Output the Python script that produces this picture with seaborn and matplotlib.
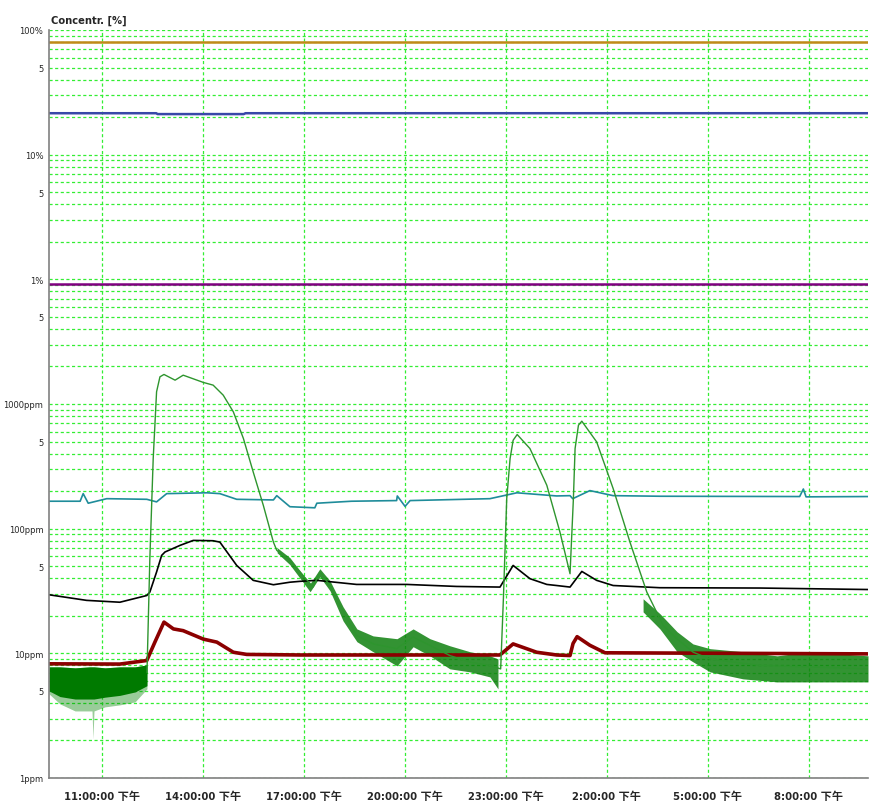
import numpy as np
import pandas as pd
import matplotlib
matplotlib.use("Agg")
import matplotlib.pyplot as plt
from matplotlib import font_manager as fm
from matplotlib.ticker import FixedLocator, NullFormatter
import seaborn as sns

# ---------------- data (time in hours since midnight of day 1, concentration in ppm) ----------------
n2_t = [9.435, 33.76]
n2_v = [800000, 800000]

o2_t = [9.435, 12.62, 12.66, 15.22, 15.27, 33.76]
o2_v = [215000, 215000, 211600, 211600, 215000, 215000]

ar_t = [9.435, 33.76]
ar_v = [9170, 9170]

teal_t = [9.435, 10.36, 10.45, 10.60, 11.15, 12.34, 12.63, 12.93, 14.12, 14.51, 15.01, 16.10, 16.20,
          16.59, 17.33, 17.39, 18.42, 19.76, 19.78, 20.01, 20.16, 22.53, 23.33, 24.51, 24.91, 24.99,
          25.50, 26.19, 27.58, 31.73, 31.84, 31.92, 33.76]
teal_v = [166, 166, 191, 160, 174, 172, 164, 191, 194, 191, 172, 170, 184,
          150, 147, 160, 166, 168, 183, 151, 168, 174, 194, 183, 184, 174,
          202, 184, 182, 181, 208, 180, 181]

co_t = [9.435, 10.55, 11.54, 12.34, 12.43, 12.63, 12.78, 12.88, 13.33, 13.72, 14.31, 14.51, 15.01, 15.50,
        16.10, 16.59, 16.89, 17.39, 18.57, 20.06, 21.54, 22.83, 23.22, 23.72, 24.22, 24.51, 24.91,
        25.26, 25.70, 26.19, 27.58, 30.55, 33.76]
co_v = [29.5, 26.6, 25.7, 29.1, 31, 44.9, 61, 65, 73.5, 80.5, 80, 78, 50.7, 38.5,
        35.5, 37.2, 37.8, 38.5, 35.7, 35.7, 34.4, 34, 50.7, 39.7, 35.7, 35, 34,
        45.4, 38.5, 35, 33.6, 33.4, 32.5]

red_t = [9.435, 11.54, 12.34, 12.58, 12.85, 13.13, 13.42, 14.02, 14.42, 14.91, 15.31, 16.89, 22.83,
         23.22, 23.92, 24.51, 24.91, 25.00, 25.12, 25.50, 25.95, 33.76]
red_v = [8.24, 8.2, 8.76, 12.3, 17.8, 15.7, 15.2, 13.0, 12.3, 10.2, 9.8, 9.7, 9.7,
         11.9, 10.2, 9.7, 9.6, 12.0, 13.6, 11.6, 10.1, 9.9]

green_t = [12.345, 12.43, 12.53, 12.63, 12.73, 12.85, 13.18, 13.42, 14.02, 14.31, 14.61, 14.91, 15.21,
           15.50, 15.80, 16.10, 16.20, 16.59, 16.89, 17.28, 17.48, 17.78, 18.18, 18.57, 19.07, 19.76,
           20.25, 20.75, 21.34, 21.94, 22.53, 22.85, 22.93, 23.03, 23.13, 23.22, 23.34, 23.72, 24.22,
           24.61, 24.91, 25.01, 25.06, 25.16, 25.26, 25.70, 26.19, 26.69, 27.19, 27.58, 27.68, 28.08,
           28.57, 29.07, 30.55, 32.53, 33.76]
green_v = [7.0, 57, 365, 1253, 1652, 1726, 1553, 1703, 1489, 1417, 1177, 865, 528,
           285, 154, 78, 67, 55.6, 44.9, 34, 44.9, 35, 21.4, 13.9, 11.9, 10.9,
           13.5, 11.6, 9.6, 8.5, 8.0, 7.5, 27, 174, 365, 512, 569, 439, 223,
           94, 43.5, 174, 439, 676, 728, 497, 210, 78, 31, 18.9, 16.7, 13.1,
           10.2, 9.0, 8.0, 7.7, 7.5]

# noisy background section before the first event
noiseA_t = [9.435, 9.76, 10.21, 10.65, 10.712, 10.742, 10.771, 11.10, 11.54, 11.99, 12.345]
noiseA_hi = [7.79, 7.79, 7.65, 7.79, 7.79, 7.79, 7.79, 7.65, 7.79, 7.79, 8.08]
noiseA_lo = [4.73, 3.93, 3.45, 3.45, 3.45, 2.06, 3.45, 3.72, 3.86, 4.08, 5.19]
noiseA_core = [5.0, 4.5, 4.3, 4.3, 4.3, 4.3, 4.3, 4.45, 4.6, 4.9, 5.5]

noiseB_t = [16.21, 16.59, 17.19, 17.48, 17.78, 18.17, 18.58, 19.06, 19.77, 20.25, 20.75, 21.34, 21.94, 22.53, 22.77]
noiseB_hi = [70.4, 58.5, 36.2, 47.7, 38.2, 23.6, 15.7, 13.8, 13.1, 15.7, 13.1, 11.5, 10.3, 9.55, 9.03]
noiseB_lo = [64.1, 51.4, 31.2, 41.1, 31.8, 18.2, 12.4, 10.3, 7.94, 11.3, 9.55, 7.51, 7.10, 6.47, 5.19]

noiseC_t = [27.08, 27.58, 28.09, 28.56, 29.07, 30.05, 31.06, 32.04, 33.76]
noiseC_hi = [27.4, 20.8, 14.9, 11.9, 10.9, 10.3, 9.55, 10.3, 9.55]
noiseC_lo = [21.5, 15.7, 10.3, 8.55, 7.10, 6.24, 5.90, 5.90, 5.90]

xtick_pos = [11, 14, 17, 20, 23, 26, 29, 32]
xtick_lab = ["11:00:00 下午", "14:00:00 下午", "17:00:00 下午", "20:00:00 下午",
             "23:00:00 下午", "2:00:00 下午", "5:00:00 下午", "8:00:00 下午"]
ytick_pos = [1, 5, 10, 50, 100, 500, 1000, 5000, 1e4, 5e4, 1e5, 5e5, 1e6]
ytick_lab = ["1ppm", "5", "10ppm", "5", "100ppm", "5", "1000ppm", "5", "1%", "5", "10%", "5", "100%"]

# ---------------- font choice: a narrow face if one is installed ----------------
sns.set_style("white")
_faces = [(f.name, f.stretch) for f in fm.fontManager.ttflist]
_names = {n for n, _ in _faces}
if "Liberation Sans Narrow" in _names:
    base, stretch, ysize, xsize = "Liberation Sans Narrow", "normal", 9.5, 9.5
elif any(n == "DejaVu Sans" and s in ("condensed", "semi-condensed") for n, s in _faces):
    base, stretch, ysize, xsize = "DejaVu Sans", "condensed", 8.0, 8.0
elif "Liberation Sans" in _names:
    base, stretch, ysize, xsize = "Liberation Sans", "normal", 7.5, 7.5
else:
    base, stretch, ysize, xsize = "DejaVu Sans", "normal", 7.5, 7.5
plt.rcParams['font.family'] = [base, 'Noto Sans CJK SC', 'DejaVu Sans']
plt.rcParams['font.stretch'] = stretch

fig = plt.figure(figsize=(8.69, 8.04), dpi=100)
ax = fig.add_axes([49 / 869, 1 - 779 / 804, 819 / 869, 748 / 804])
ax.set_yscale("log")
ax.set_ylim(1, 1e6)
ax.set_xlim(9.435, 33.76)

grid_kw = dict(color="#33ee33", linestyle=(0, (2.5, 2)), linewidth=0.9)
minor_y = [k * 10 ** e for e in range(0, 6) for k in (2, 3, 4, 6, 7, 8, 9)]
ax.yaxis.set_major_locator(FixedLocator(ytick_pos))
ax.yaxis.set_minor_locator(FixedLocator(minor_y))
ax.yaxis.set_minor_formatter(NullFormatter())
ax.set_yticklabels(ytick_lab)
ax.xaxis.set_major_locator(FixedLocator(xtick_pos))
ax.xaxis.set_minor_locator(FixedLocator([h for h in range(10, 34) if h not in xtick_pos]))
ax.set_xticklabels(xtick_lab)
ax.grid(True, which="both", axis="y", **grid_kw)
ax.grid(True, which="major", axis="x", **grid_kw)
ax.set_axisbelow(True)

# noise bands
ax.fill_between(noiseA_t, noiseA_lo, noiseA_hi, color="#008000", alpha=0.4, linewidth=0)
ax.fill_between(noiseA_t, noiseA_core, noiseA_hi, color="#007a00", alpha=1.0, linewidth=0)
ax.fill_between(noiseB_t, noiseB_lo, noiseB_hi, color="#0f800f", alpha=0.85, linewidth=0)
ax.fill_between(noiseC_t, noiseC_lo, noiseC_hi, color="#0f800f", alpha=0.85, linewidth=0)

common = dict(ax=ax, estimator=None, sort=False, legend=False)
sns.lineplot(x=n2_t, y=n2_v, color="#c08a18", linewidth=1.8, **common)
sns.lineplot(x=o2_t, y=o2_v, color="#3848a8", linewidth=1.8, **common)
sns.lineplot(x=ar_t, y=ar_v, color="#800080", linewidth=1.8, **common)
sns.lineplot(x=teal_t, y=teal_v, color="#1f8c9a", linewidth=1.2, **common)
sns.lineplot(x=red_t, y=red_v, color="#8b0000", linewidth=2.6, **common)
sns.lineplot(x=co_t, y=co_v, color="#000000", linewidth=1.2, **common)
sns.lineplot(x=green_t, y=green_v, color="#2e952e", linewidth=1.0, **common)

for s in ("top", "right"):
    ax.spines[s].set_visible(False)
for s in ("left", "bottom"):
    ax.spines[s].set_color("#808080")
    ax.spines[s].set_linewidth(1.2)

ax.tick_params(axis="y", which="major", length=3.5, width=1, color="#606060", labelsize=ysize, pad=0.5)
ax.tick_params(axis="y", which="minor", length=0)
ax.tick_params(axis="x", which="major", length=5, width=1, color="#606060", labelsize=xsize, pad=4)
ax.tick_params(axis="x", which="minor", length=3, width=1, color="#606060")
for lab in ax.get_xticklabels():
    lab.set_fontweight("bold")
ax.set_xlabel("")
ax.set_ylabel("")

# shrink the y tick labels (all alike) until the widest one fits inside the left margin
renderer = fig.canvas.get_renderer()
for _ in range(12):
    fig.canvas.draw()
    x0 = min(l.get_window_extent(renderer).x0 for l in ax.get_yticklabels() if l.get_text())
    if x0 >= 2:
        break
    ysize -= 0.25
    ax.tick_params(axis="y", which="major", labelsize=ysize)

fig.text(51 / 869, 1 - 21 / 804, "Concentr. [%]", fontsize=8, fontweight="bold",
         ha="left", va="center")

fig.savefig("out.png", dpi=100)
